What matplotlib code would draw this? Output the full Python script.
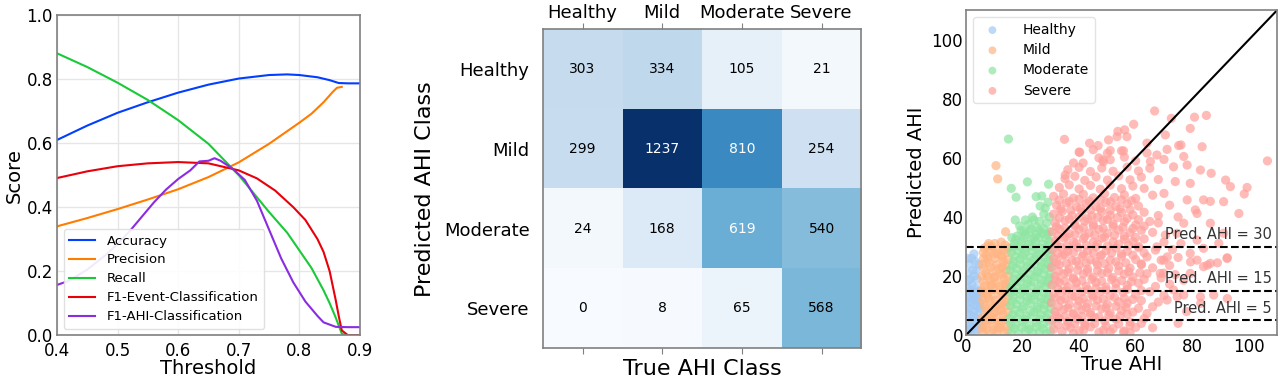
import numpy as np
import matplotlib
matplotlib.use("Agg")
import matplotlib.pyplot as plt

# ---- panel 1: threshold curves
acc_x = [0.40, 0.45, 0.50, 0.55, 0.60, 0.65, 0.70, 0.75, 0.78, 0.80, 0.83, 0.85, 0.865, 0.88, 0.90]
acc_y = [0.610, 0.655, 0.695, 0.728, 0.758, 0.783, 0.802, 0.813, 0.815, 0.813, 0.806, 0.797, 0.788, 0.787, 0.787]
prec_x = [0.40, 0.45, 0.50, 0.55, 0.60, 0.65, 0.70, 0.75, 0.80, 0.82, 0.84, 0.855, 0.862, 0.87]
prec_y = [0.340, 0.366, 0.394, 0.424, 0.456, 0.494, 0.540, 0.598, 0.664, 0.692, 0.728, 0.760, 0.773, 0.776]
rec_x = [0.40, 0.45, 0.50, 0.55, 0.60, 0.65, 0.70, 0.75, 0.78, 0.80, 0.82, 0.84, 0.85, 0.86, 0.87, 0.875]
rec_y = [0.881, 0.838, 0.789, 0.735, 0.672, 0.598, 0.500, 0.385, 0.320, 0.265, 0.210, 0.140, 0.100, 0.055, 0.005, 0.0]
f1e_x = [0.40, 0.45, 0.50, 0.55, 0.60, 0.65, 0.70, 0.73, 0.76, 0.79, 0.81, 0.83, 0.84, 0.85, 0.86, 0.865, 0.87, 0.88, 0.90]
f1e_y = [0.491, 0.512, 0.528, 0.537, 0.541, 0.537, 0.515, 0.490, 0.452, 0.400, 0.360, 0.300, 0.260, 0.200, 0.110, 0.060, 0.015, 0.0, 0.0]
f1a_x = [0.40, 0.42, 0.45, 0.48, 0.50, 0.52, 0.54, 0.56, 0.58, 0.60, 0.62, 0.635, 0.65, 0.66, 0.67, 0.69, 0.71,
         0.73, 0.75, 0.77, 0.79, 0.81, 0.83, 0.84, 0.86, 0.88, 0.90]
f1a_y = [0.157, 0.170, 0.205, 0.250, 0.285, 0.325, 0.370, 0.415, 0.455, 0.488, 0.515, 0.543, 0.545, 0.553, 0.545,
         0.520, 0.485, 0.420, 0.330, 0.240, 0.165, 0.105, 0.060, 0.040, 0.026, 0.025, 0.025]

# ---- panel 2: confusion matrix
classes = ["Healthy", "Mild", "Moderate", "Severe"]
cm = np.array([[303, 334, 105, 21],
               [299, 1237, 810, 254],
               [24, 168, 619, 540],
               [0, 8, 65, 568]])

# ---- panel 3: true vs predicted AHI (a hand-read sample of the cloud)
healthy_pts = [(0.5, 1), (1.5, 2), (3, 1), (4.5, 2), (0.8, 4), (2.2, 5), (3.8, 4), (1, 7), (2.8, 8), (4.2, 7),
               (0.5, 10), (1.8, 11), (3.5, 10), (4.8, 11), (1.2, 13), (2.6, 14), (4, 13), (0.7, 16), (2.1, 17),
               (3.4, 16), (4.6, 15), (1.5, 19), (3, 20), (0.6, 21), (2.4, 22), (3.9, 19), (1.1, 24), (3.2, 25),
               (2, 26), (2.8, 27.5), (4.5, 24), (0.4, 26), (4.8, 5.5), (0.3, 7.5), (5, 9), (2, 2.5), (3.3, 12),
               (1.3, 9), (4.3, 9.5), (0.4, 12.5), (2.7, 6.5), (1.6, 15), (3.8, 14.5), (0.9, 18.5), (4.9, 13.5),
               (2.3, 12), (0.3, 3), (4.9, 3.5), (3.6, 22), (1.8, 0.5)]
mild_pts = [(6, 1), (8.5, 0.5), (11, 1.5), (13.5, 0.8), (7, 3.5), (9.8, 3), (12.4, 4), (14.6, 3), (5.8, 6),
            (8.2, 6.5), (10.8, 5.8), (13.2, 7), (6.8, 9), (9.3, 9.5), (11.9, 8.8), (14.3, 10), (5.9, 12),
            (8, 12.5), (10.5, 11.8), (13, 13), (7, 15), (9.6, 15.5), (12.2, 15), (14.7, 16), (6, 18),
            (8.6, 18.5), (11.2, 17.8), (13.6, 19), (6.9, 21), (9.3, 21.5), (12, 21), (14.4, 22), (5.8, 24),
            (8.3, 24.5), (10.9, 23.8), (13.3, 25), (7.2, 27), (9.8, 27.5), (12.3, 27), (14.5, 28), (6.5, 29.5),
            (9, 30), (11.5, 29), (13.8, 30.5), (10.2, 31), (12.5, 31.5), (10.6, 57.4), (11.2, 52.9), (14, 35),
            (8, 31), (7.5, 13.5), (10, 19.5), (12.8, 10.5), (7.7, 5), (11.5, 2.5), (14, 17.5), (6.2, 26),
            (10, 7.5), (12.7, 23), (8.8, 16.8),
            (7.2, 2), (9.7, 1.8), (12.2, 2.4), (14.8, 1.5), (6.4, 4.8), (8.9, 5.2), (11.4, 4.5), (13.9, 5.3),
            (7.4, 8), (9.9, 7.6), (12.5, 8.3), (14.9, 7.8), (6.2, 10.7), (8.7, 11), (11.2, 10.4), (13.7, 11.4),
            (7.3, 14), (9.8, 13.6), (12.6, 14.3), (14.9, 13), (6.5, 16.7), (9, 17.2), (11.6, 16.5), (14.1, 17.1),
            (7.5, 20), (10.1, 19.8), (12.7, 20.4), (14.9, 20), (6.3, 22.8), (8.8, 23), (11.5, 22.5), (14, 23.6),
            (7.6, 25.7), (10.2, 26), (12.8, 26.3), (14.9, 25.5), (6.1, 28), (8.5, 28.3), (11.1, 27.7),
            (13.4, 28.9), (7.9, 30.2), (5.6, 2.5), (5.5, 15), (5.7, 20), (15, 29.5)]
moderate_pts = [(16, 1), (18.5, 0.5), (21, 1.5), (23.5, 0.8), (26, 1.2), (28.5, 0.6),
                (15.8, 4), (17.5, 3.5), (20, 4.5), (22.5, 3.2), (25, 4.2), (27.5, 3.8), (29.6, 4.5),
                (16.5, 7), (19, 7.5), (21.5, 6.5), (24, 7.8), (26.5, 6.8), (29, 7.2),
                (15.7, 10), (17.8, 10.5), (20.3, 9.8), (22.8, 10.8), (25.3, 9.5), (27.8, 10.3), (29.7, 11),
                (16.6, 13), (19.2, 13.8), (21.7, 12.8), (24.2, 13.5), (26.7, 12.5), (29.2, 13.6),
                (15.9, 16), (18, 16.6), (20.5, 15.8), (23, 16.8), (25.5, 15.5), (28, 16.4), (29.8, 17),
                (16.8, 19), (19.3, 19.6), (21.8, 18.8), (24.3, 19.8), (26.8, 18.6), (29.3, 19.4),
                (15.6, 22), (17.9, 22.6), (20.4, 21.8), (22.9, 22.8), (25.4, 21.6), (27.9, 22.4), (29.8, 23),
                (16.7, 25), (19.1, 25.7), (21.6, 24.8), (24.1, 25.6), (26.6, 24.7), (29.1, 25.5),
                (16, 28), (18.3, 28.6), (20.8, 27.8), (23.3, 28.7), (25.8, 27.6), (28.3, 28.4), (29.8, 29),
                (17, 31), (19.6, 31.5), (22.1, 30.8), (24.6, 31.6), (27.1, 30.7), (29.4, 31.8),
                (18, 33.5), (21, 34), (24, 33), (27, 34.5), (29.5, 35),
                (17.2, 2.3), (19.8, 2.6), (22.3, 2), (24.8, 2.8), (27.3, 2.2), (29.8, 1.5),
                (15.5, 5.6), (18.2, 5.8), (20.9, 5.4), (23.4, 6), (26, 5.5), (28.6, 5.8),
                (17.3, 8.6), (19.9, 8.9), (22.6, 8.3), (25.1, 8.8), (27.6, 8.6), (29.9, 9),
                (16.4, 11.6), (19, 12), (21.5, 11.5), (24, 12), (26.5, 11.2), (29, 12.1),
                (17.2, 14.7), (20, 14.9), (22.5, 14.3), (25, 14.8), (27.6, 14.2), (15.5, 14.5),
                (16.6, 17.6), (19.1, 18), (21.6, 17.4), (24.1, 18), (26.6, 17.4), (29, 18.2),
                (17.4, 20.6), (20, 21), (22.6, 20.4), (25.1, 21), (27.5, 20.5), (29.9, 20.8),
                (16.5, 23.6), (19.2, 24), (21.7, 23.4), (24.2, 24), (26.7, 23.3), (29.3, 24),
                (17.4, 26.7), (20, 27), (22.5, 26.4), (25, 27), (27.5, 26.3), (29.9, 27),
                (16.6, 29.8), (19, 30), (21.4, 29.5), (24, 30), (26.5, 29.4), (28.9, 30.2),
                (17.6, 32.5), (20.3, 32.8), (23, 32.2), (25.8, 33), (28.3, 32.7), (16.2, 33), (19.5, 35.5),
                (22.5, 35), (26, 35.5), (28.8, 34), (25, 34), (23.5, 40), (21, 39),
                (15, 66.4), (16, 49.7), (17.7, 46.7), (21.7, 51.9), (29.2, 51.1), (24.8, 46.9), (26.8, 47.1),
                (26.2, 43.7), (17.4, 39), (19, 37), (24, 39), (28, 43), (29.5, 40), (27.5, 36), (23, 36),
                (22, 37.5), (26, 38.5), (28.5, 38), (20.5, 35), (29, 45), (27.5, 41), (25, 36.5)]
severe_pts = [(31, 2), (34, 1.2), (37, 2.5), (40, 1.5), (44, 2.8), (47, 1), (52, 2.2), (56, 1.4), (60, 2.6),
              (30.5, 5), (33, 5.8), (36, 4.6), (39.5, 5.5), (42, 4.2), (45.5, 5.9), (49, 4.8), (53, 5.4), (58, 4.5), (63, 5.6),
              (31.5, 8), (34.5, 8.7), (38, 7.4), (41, 8.6), (44, 7.7), (48, 8.9), (51, 7.5), (55, 8.4), (59, 7.8), (66, 9.6),
              (30.2, 11), (33.5, 11.8), (36.5, 10.4), (40, 11.6), (43, 10.7), (46.5, 11.9), (50, 10.5), (54, 11.3), (57, 10.8), (62, 11.7), (68, 11.2),
              (31, 14), (34, 14.9), (37.5, 13.3), (41, 14.6), (44.5, 13.6), (47.5, 14.8), (51, 13.4), (55.5, 14.5), (60, 13.8), (65, 14.7), (70, 13.5),
              (30.5, 17), (33, 17.9), (36, 16.4), (39, 17.7), (42.5, 16.6), (46, 17.8), (49.5, 16.3), (53, 17.5), (57, 16.8), (61, 17.6), (67, 16.5), (72, 17.3),
              (31.5, 20), (34.5, 20.8), (38, 19.4), (41.5, 20.7), (45, 19.6), (48, 20.9), (52, 19.5), (56, 20.6), (59, 19.7), (64, 20.8), (69, 19.4), (74, 20.5),
              (30.3, 23), (33, 23.9), (36.5, 22.5), (40, 23.7), (43, 22.4), (46.5, 23.8), (50.5, 22.6), (54, 23.5), (58, 22.7), (62, 23.9), (66, 22.8), (72, 23.6),
              (31, 26), (34, 26.9), (37.5, 25.3), (41, 26.6), (44, 25.5), (47.5, 26.8), (51, 25.4), (55, 26.7), (60, 25.6), (64, 26.5), (69, 25.4), (75, 26.3),
              (30.5, 29), (33.5, 29.8), (36, 28.4), (39.5, 29.7), (43, 28.5), (46, 29.9), (49.5, 28.6), (53, 29.5), (57, 28.4), (61, 29.6), (67, 28.8),
              (31.5, 32), (34.5, 32.9), (38, 31.4), (41.5, 32.7), (45, 31.5), (48, 32.8), (52, 31.6), (56, 32.5), (59, 31.7), (63, 32.6), (70, 31.5),
              (30.4, 35), (33, 35.9), (36.5, 34.4), (40, 35.7), (43.5, 34.6), (47, 35.8), (50, 34.5), (54, 35.6), (58, 34.7), (62, 35.5), (66, 34.8),
              (31.5, 38), (35, 38.8), (38.5, 37.4), (42, 38.6), (45, 37.5), (48.5, 38.9), (52, 37.6), (56, 38.4), (60, 37.3), (65, 38.5),
              (31, 41), (34, 41.9), (37.5, 40.5), (41, 41.7), (44.5, 40.4), (48, 41.8), (51, 40.6), (55, 41.5), (59, 40.7), (63, 41.6), (68, 40.5),
              (32, 44), (35.5, 44.8), (39, 43.4), (42.5, 44.6), (46, 43.5), (49.5, 44.9), (53, 43.6), (57, 44.5), (61, 43.7),
              (31, 47), (34.5, 47.8), (38, 46.4), (41.5, 47.7), (45, 46.5), (49, 47.9), (52.5, 46.6), (56, 47.5), (60, 46.3), (66, 47.4),
              (33, 50), (36.5, 50.9), (40, 49.5), (44, 50.7), (47.5, 49.4), (51, 50.8), (55, 49.6), (59, 50.5), (63, 49.7),
              (35, 53), (38.5, 53.8), (42, 52.4), (46, 53.6), (50, 52.5), (54, 53.9), (58, 52.6), (62, 53.5), (68, 52.7),
              (36, 56), (40, 56.8), (44, 55.4), (48, 56.6), (52, 55.5), (57, 56.9), (61, 55.6), (65, 56.5),
              (38, 58.3), (41.4, 58.3), (48.6, 58.7), (35.1, 54.2), (47, 60), (51, 59.4), (56, 60.3), (60, 59), (70, 59.5),
              (40, 62), (45, 62.8), (50, 61.6), (55, 62.4), (64, 61.7),
              # filling the dense core
              (32.5, 3.6), (35.5, 3.2), (38.5, 4), (42, 3.3), (45.5, 3.9), (49.5, 3.1), (54, 3.8), (58, 3.4),
              (32, 6.7), (35, 6.3), (38, 7), (41, 6.4), (44, 6.9), (47, 6.2), (50.5, 6.8), (54.5, 6.5), (57, 7.1),
              (32.7, 9.7), (36, 9.2), (39.5, 10), (42.5, 9.4), (46, 9.9), (49.5, 9.3), (53, 9.8), (56.5, 9.5), (61, 9.1),
              (32, 12.7), (35, 12.3), (38.5, 13), (41.5, 12.4), (45, 12.9), (48.5, 12.2), (52.5, 12.8), (56, 12.5), (59, 12.1),
              (32.5, 15.7), (35.5, 15.2), (39, 16), (43, 15.4), (46, 15.9), (49.5, 15.3), (53, 15.8), (57, 15.5), (62, 15.1),
              (32, 18.7), (35, 18.3), (38, 19), (41, 18.4), (44.5, 18.9), (48, 18.2), (51.5, 18.8), (55, 18.5), (58.5, 18.1), (63, 18.9),
              (32.8, 21.7), (36, 21.3), (39.5, 22), (43, 21.4), (46.5, 21.9), (50, 21.2), (54, 21.8), (57.5, 21.5), (61.5, 21.1),
              (32, 24.7), (35.5, 24.3), (39, 25), (42.5, 24.4), (46, 24.9), (49, 24.2), (53, 24.8), (56.5, 24.5), (62, 24.1),
              (32.5, 27.7), (35, 27.3), (38, 28), (41.5, 27.4), (45, 27.9), (48, 27.2), (51.5, 27.8), (55, 27.5), (59, 27.1), (63, 27.9),
              (32, 30.7), (35.8, 30.3), (39, 31), (42.5, 30.4), (46.5, 30.9), (50, 30.2), (54, 30.8), (57.5, 30.5), (61, 30.1),
              (32.5, 33.7), (35.5, 33.3), (38.5, 34), (42, 33.4), (45.5, 33.9), (49, 33.2), (52.5, 33.8), (56, 33.5), (60, 33.1),
              (32, 36.7), (35, 36.3), (38.5, 37), (41.5, 36.4), (45, 36.9), (48.5, 36.2), (52, 36.8), (55.5, 36.5), (59, 36.1), (63, 36.9),
              (33, 39.7), (36.5, 39.3), (40, 40), (43, 39.4), (46.5, 39.9), (50, 39.2), (53.5, 39.8), (57, 39.5), (61, 39.1),
              (33.5, 42.7), (37, 42.3), (40.5, 43), (44, 42.4), (47.5, 42.9), (51, 42.2), (54.5, 42.8), (58, 42.5),
              (33, 45.7), (36.5, 45.3), (40, 46), (43.5, 45.4), (47.5, 45.9), (51, 45.2), (55, 45.8), (58.5, 45.5),
              # sparse points outside the core
              (66.7, 75.9), (72.6, 73.4), (80.8, 73.8), (85, 74.4), (59.3, 71.4), (56.1, 69.5), (53.7, 69),
              (34.8, 66.3), (43.7, 65), (46.7, 64.2), (40.2, 61.9), (106.6, 59), (99.4, 50), (98.4, 47.8),
              (96.5, 41.2), (91.1, 45.2), (91.8, 52.5), (93.5, 50.3), (86.7, 54.8), (82.9, 55.9), (77, 60.5),
              (76, 64.4), (75.2, 64.2), (83.5, 63.8), (79.3, 70), (70.5, 67.8), (56.9, 67.2), (53.4, 67.2),
              (50.4, 66.1), (48.4, 59.3), (51, 62.5), (55.7, 62.4), (64, 65), (67.5, 61), (71.1, 62.9),
              (65.2, 58.8), (73.4, 57), (78.2, 57.6), (79.3, 51.4), (78.2, 45.8), (81.1, 42.4), (81.7, 41.2),
              (84, 45.8), (86.4, 45.3), (77, 37.9), (74.6, 34.5), (86.4, 37.9), (91.1, 34.5), (89.4, 31.1),
              (84, 29.4), (81.7, 32.2), (79.3, 27.7), (86.4, 24.3), (92.3, 26), (84, 23.2), (81.7, 25.4),
              (79.3, 20.9), (77, 18.6), (77, 13.6), (82.9, 13), (73.4, 15.3), (71.1, 11.9), (64, 7.3),
              (55.7, 1.1), (51, 1.1), (48.6, 1.7), (41.6, 1.7), (38, 0.6), (68.7, 20.9), (69.9, 25.4),
              (67.5, 29.9), (70.5, 33.9), (92.4, 26.2), (88.9, 24.5), (85.4, 23.7), (79.4, 24.8), (92.4, 12.4),
              (87.6, 13.6), (83, 10.8), (74.7, 13), (69.9, 21), (71.2, 26.5), (72, 44), (75, 40), (70, 48),
              (74, 52), (68, 38), (73, 29), (76, 31), (62, 4), (66, 2.5), (58, 0.8), (78, 8), (75, 4)]

scatter_groups = [("Healthy", healthy_pts, "#a1c9f4"), ("Mild", mild_pts, "#ffb482"),
                  ("Moderate", moderate_pts, "#8de5a1"), ("Severe", severe_pts, "#ff9f9b")]
pred_cut = [30, 15, 5]

spine_col = "#808080"
fig = plt.figure(figsize=(12.8, 3.8), dpi=100)

# panel 1
ax1 = fig.add_axes([0.0445, 0.118, 0.2367, 0.842])
ax1.plot(acc_x, acc_y, color="#023eff", lw=1.5, label="Accuracy")
ax1.plot(prec_x, prec_y, color="#ff7c00", lw=1.5, label="Precision")
ax1.plot(rec_x, rec_y, color="#1ac938", lw=1.5, label="Recall")
ax1.plot(f1e_x, f1e_y, color="#e8000b", lw=1.5, label="F1-Event-Classification")
ax1.plot(f1a_x, f1a_y, color="#8b2be2", lw=1.5, label="F1-AHI-Classification")
ax1.set_xlim(0.4, 0.9)
ax1.set_ylim(0, 1)
ax1.set_xticks([0.4, 0.5, 0.6, 0.7, 0.8, 0.9])
ax1.grid(True, color="#e6e6e6", lw=1)
ax1.set_axisbelow(True)
ax1.tick_params(labelsize=12, length=0, pad=3)
ax1.tick_params(axis="x", pad=5)
ax1.set_xlabel("Threshold", fontsize=14, labelpad=-1)
ax1.set_ylabel("Score", fontsize=14, labelpad=2)
ax1.legend(loc="lower left", fontsize=9.5, handlelength=2.0, handletextpad=0.9, labelspacing=0.45,
           framealpha=0.9, edgecolor="#dddddd")

# panel 2
ax2 = fig.add_axes([0.424, 0.084, 0.249, 0.839])
ax2.imshow(cm, cmap="Blues", vmin=0, vmax=cm.max(), aspect="auto")
for i in range(4):
    for j in range(4):
        ax2.text(j, i, str(cm[i, j]), ha="center", va="center", fontsize=10,
                 color="white" if cm[i, j] > cm.max() / 2 else "black")
ax2.set_xticks(range(4))
ax2.set_yticks(range(4))
ax2.set_xticklabels(classes)
ax2.set_yticklabels(classes)
ax2.tick_params(axis="x", top=True, bottom=True, labeltop=True, labelbottom=False, labelsize=13,
                length=4, color=spine_col, pad=1)
ax2.tick_params(axis="y", left=False, labelsize=13, pad=6)
ax2.set_xlabel("True AHI Class", fontsize=16, labelpad=4)
ax2.set_ylabel("Predicted AHI Class", fontsize=16, labelpad=6)

# panel 3
ax3 = fig.add_axes([0.7547, 0.118, 0.243, 0.855])
for name, pts, col in scatter_groups:
    xs = [p[0] for p in pts]
    ys = [p[1] for p in pts]
    ax3.scatter(xs, ys, s=44, color=col, alpha=0.7, edgecolors="none", label=name)
ax3.plot([0, 110], [0, 110], color="black", lw=1.5)
for c in pred_cut:
    ax3.axhline(c, color="black", ls="--", lw=1.5)
    ax3.text(108, c + 1.5, f"Pred. AHI = {c}", ha="right", va="bottom", fontsize=10.5, color="#333333")
ax3.set_xlim(0, 110)
ax3.set_ylim(0, 110)
ax3.set_xticks([0, 20, 40, 60, 80, 100])
ax3.set_yticks([0, 20, 40, 60, 80, 100])
ax3.tick_params(labelsize=12, length=0, pad=2)
ax3.set_xlabel("True AHI", fontsize=14, labelpad=-1)
ax3.set_ylabel("Predicted AHI", fontsize=14, labelpad=4)
ax3.legend(loc="upper left", fontsize=10, handletextpad=1.2, labelspacing=0.45, edgecolor="#dddddd",
           markerscale=0.85)

for ax in (ax1, ax2, ax3):
    for sp in ax.spines.values():
        sp.set_color(spine_col)
        sp.set_linewidth(1.2)

fig.savefig("out.png", dpi=100)
